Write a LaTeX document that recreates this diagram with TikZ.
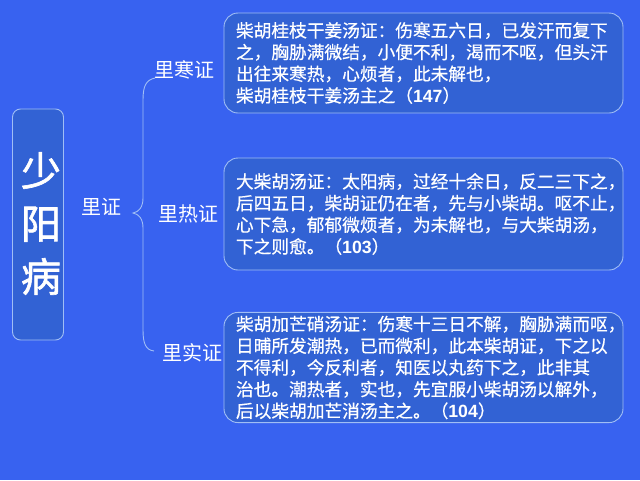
\documentclass[tikz,border=0pt]{standalone}
\usepackage{fontspec}
\setmainfont{Noto Sans CJK SC}
\newfontfamily\bodyfont{Noto Sans CJK SC}[FakeBold=0.6]
\newfontfamily\titlefont{Noto Sans CJK SC}[FakeBold=1.5]
\newfontfamily\numfont{Liberation Sans}
\definecolor{bgblue}{RGB}{56,98,240}
\definecolor{boxfill}{RGB}{50,98,212}
\definecolor{boxline}{RGB}{160,190,245}
\tikzset{
  textbox/.style={draw=boxline, line width=0.9pt, fill=boxfill, rounded corners=14pt,
    minimum width=399pt, text width=375pt, inner xsep=12pt, align=left, text=white,
    font=\bodyfont\fontsize{17.7}{21.7}\selectfont},
  label/.style={text=white, font=\fontsize{20}{24}\selectfont, inner sep=0pt},
  bracestyle/.style={draw=boxline, line width=0.9pt}
}
\newcommand{\nb}[1]{{\numfont\bfseries #1}}
\begin{document}
\begin{tikzpicture}[x=1pt,y=-1pt]
\fill[bgblue] (0,0) rectangle (640,480);
\useasboundingbox (0,0) rectangle (640,480);

\node[draw=boxline, line width=0.9pt, fill=boxfill, rounded corners=8pt,
  minimum width=51pt, minimum height=231pt] (main) at (38,224.5) {};
\node[text=white, align=center, inner sep=0pt,
  font=\titlefont\fontsize{40}{53}\selectfont] (title) at (41,223.5) {少\\阳\\病};

\node[label] (li) at (101,207) {里证};
\node[label] (han) at (184,70) {里寒证};
\node[label] (re) at (188,214) {里热证};
\node[label] (shi) at (192,353) {里实证};

\coordinate (btop) at (155,78);
\coordinate (btip) at (133,213);
\coordinate (bbot) at (154,351);
\draw[bracestyle] (btop) .. controls (146,80) and (143,86) .. (143,100)
  -- (143,198) .. controls (143,207) and (139,212) .. (btip)
  .. controls (139,214) and (143,219) .. (143,228)
  -- (143,330) .. controls (143,344) and (146,350) .. (bbot);

\node[textbox, minimum height=100pt] (b1) at (423.5,63)
{柴胡桂枝干姜汤证：伤寒五六日，已发汗而复下\\
之，胸胁满微结，小便不利，渴而不呕，但头汗\\
出往来寒热，心烦者，此未解也，\\
柴胡桂枝干姜汤主之（\nb{147}）};

\node[textbox, minimum height=112pt] (b2) at (423.5,214)
{大柴胡汤证：太阳病，过经十余日，反二三下之，\\
后四五日，柴胡证仍在者，先与小柴胡。呕不止，\\
心下急，郁郁微烦者，为未解也，与大柴胡汤，\\
下之则愈。（\nb{103}）};

\node[textbox, minimum height=105pt] (b3) at (423.5,367.5)
{柴胡加芒硝汤证：伤寒十三日不解，胸胁满而呕，\\
日晡所发潮热，已而微利，此本柴胡证，下之以\\
不得利，今反利者，知医以丸药下之，此非其\\
治也。潮热者，实也，先宜服小柴胡汤以解外，\\
后以柴胡加芒消汤主之。（\nb{104}）};
\end{tikzpicture}
\end{document}
